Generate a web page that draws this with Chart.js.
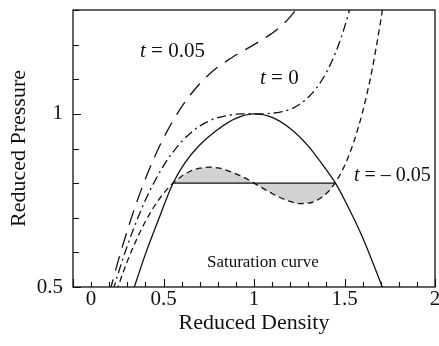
<!DOCTYPE html>
<html>
<head>
<meta charset="utf-8">
<script src="https://cdn.jsdelivr.net/npm/chart.js@4.4.0/dist/chart.umd.min.js"></script>
<style>
  html, body { margin: 0; padding: 0; background: #fff; }
  canvas { display: block; }
</style>
</head>
<body>
<canvas id="isotherm_plot" width="439" height="346"></canvas>
<script>
'use strict';

// isotherm t = 0.05
const densityHot = [0.20, 0.25, 0.30, 0.35, 0.40, 0.45, 0.50, 0.55, 0.60, 0.65, 0.70, 0.75, 0.80, 0.85, 0.90, 0.95, 1.00, 1.05, 1.10, 1.15, 1.20, 1.25];
const pressureHot = [0.480, 0.576, 0.663, 0.742, 0.812, 0.875, 0.930, 0.978, 1.020, 1.056, 1.087, 1.113, 1.135, 1.153, 1.170, 1.185, 1.200, 1.216, 1.233, 1.254, 1.280, 1.313];

// critical isotherm t = 0
const densityCrit = [0.22, 0.25, 0.30, 0.35, 0.40, 0.45, 0.50, 0.55, 0.60, 0.65, 0.70, 0.75, 0.80, 0.85, 0.90, 0.95, 1.00, 1.05, 1.10, 1.15, 1.20, 1.25, 1.30, 1.35, 1.40, 1.45, 1.50, 1.55];
const pressureCrit = [0.488, 0.540, 0.619, 0.689, 0.751, 0.804, 0.850, 0.888, 0.920, 0.945, 0.965, 0.979, 0.989, 0.995, 0.999, 1.000, 1.000, 1.000, 1.002, 1.006, 1.013, 1.027, 1.048, 1.078, 1.120, 1.176, 1.250, 1.344];

// isotherm t = -0.05 (with van der Waals loop)
const densityCold = [0.24, 0.25, 0.30, 0.35, 0.40, 0.45, 0.50, 0.55, 0.60, 0.65, 0.70, 0.75, 0.80, 0.85, 0.90, 0.95, 1.00, 1.05, 1.10, 1.15, 1.20, 1.25, 1.30, 1.35, 1.40, 1.45, 1.50, 1.55, 1.60, 1.65, 1.70, 1.72];
const pressureCold = [0.488, 0.503, 0.574, 0.636, 0.689, 0.734, 0.770, 0.799, 0.820, 0.835, 0.843, 0.846, 0.844, 0.837, 0.827, 0.815, 0.800, 0.785, 0.770, 0.757, 0.747, 0.741, 0.742, 0.751, 0.770, 0.802, 0.850, 0.917, 1.006, 1.121, 1.269, 1.337];

// Maxwell construction for t = -0.05
const densityTieLine = [0.55, 1.45];
const pressureTieLine = [0.80, 0.80];

// saturation (coexistence) curve
const densitySat = [0.32, 0.40, 0.48, 0.55, 0.62, 0.70, 0.80, 0.90, 1.00, 1.10, 1.20, 1.30, 1.40, 1.45, 1.50, 1.60, 1.72];
const pressureSat = [0.470, 0.595, 0.705, 0.797, 0.860, 0.910, 0.955, 0.987, 1.000, 0.990, 0.958, 0.907, 0.838, 0.800, 0.752, 0.643, 0.485];

// axis labels (the figure prints "0" under the first inner tick)
const xTickValues = [0.1, 0.5, 1, 1.5, 2];
const xTickLabels = ['0', '0.5', '1', '1.5', '2'];
const yTickValues = [0.5, 1];
const yTickLabels = ['0.5', '1'];

const INK = '#111';
const SERIF = '"Liberation Serif", "Times New Roman", serif';

function toPoints(xs, ys) {
    return xs.map((x, i) => ({x: x, y: ys[i]}));
}

function labelFor(value, values, labels) {
    const i = values.findIndex(v => Math.abs(v - value) < 1e-6);
    return i < 0 ? '' : labels[i];
}

function isMajor(v) {
    return Math.abs(v * 2 - Math.round(v * 2)) < 1e-6;
}

// shaded area between the loop and the tie line
const loopPoints = toPoints(densityCold, pressureCold)
    .filter(p => p.x >= densityTieLine[0] - 1e-6 && p.x <= densityTieLine[1] + 1e-6);

// text inside the plot, placed in data units
const notes = [
    {x: 0.37, y: 1.163, size: 21, parts: [['t', true], [' = 0.05', false]]},
    {x: 1.033, y: 1.086, size: 21, parts: [['t', true], [' = 0', false]]},
    {x: 1.552, y: 0.807, size: 20, parts: [['t', true], [' = \u2013 0.05', false]]},
    {x: 0.74, y: 0.558, size: 17, parts: [['Saturation curve', false]]}
];

const framePlugin = {
    id: 'frame',
    afterDatasetsDraw(chart) {
        const {ctx, scales: {x, y}} = chart;
        ctx.save();
        ctx.fillStyle = INK;
        ctx.textBaseline = 'alphabetic';
        ctx.textAlign = 'left';
        notes.forEach(n => {
            let px = x.getPixelForValue(n.x);
            const py = y.getPixelForValue(n.y);
            n.parts.forEach(([text, italic]) => {
                ctx.font = (italic ? 'italic ' : '') + n.size + 'px ' + SERIF;
                ctx.fillText(text, px, py);
                px += ctx.measureText(text).width;
            });
        });
        ctx.restore();
    },
    afterDraw(chart) {
        const {ctx, chartArea: a, scales: {x, y}} = chart;
        ctx.save();
        ctx.strokeStyle = INK;
        ctx.lineWidth = 1.3;
        ctx.strokeRect(a.left, a.top, a.right - a.left, a.bottom - a.top);
        ctx.lineWidth = 1.1;
        ctx.beginPath();
        x.ticks.forEach(t => {
            const px = Math.round(x.getPixelForValue(t.value)) + 0.5;
            const len = isMajor(t.value) ? 8 : 5;
            ctx.moveTo(px, a.bottom);
            ctx.lineTo(px, a.bottom - len);
        });
        y.ticks.forEach(t => {
            const py = Math.round(y.getPixelForValue(t.value)) + 0.5;
            const len = isMajor(t.value) ? 8 : 6;
            ctx.moveTo(a.left, py);
            ctx.lineTo(a.left + len, py);
        });
        ctx.stroke();
        ctx.restore();
    }
};

function curve(data, dash) {
    return {
        data: data,
        borderColor: INK,
        borderWidth: 1.3,
        borderDash: dash,
        pointRadius: 0,
        fill: false,
        cubicInterpolationMode: 'monotone'
    };
}

const isotherm_plot = new Chart(document.getElementById('isotherm_plot'), {
    type: 'line',
    data: {
        datasets: [
            curve(toPoints(densitySat, pressureSat), []),
            curve(toPoints(densityHot, pressureHot), [15, 9]),
            curve(toPoints(densityCrit, pressureCrit), [9, 4, 2, 4]),
            curve(toPoints(densityCold, pressureCold), [6, 4]),
            Object.assign(curve(toPoints(densityTieLine, pressureTieLine), []), {cubicInterpolationMode: 'default', tension: 0}),
            {
                data: loopPoints,
                borderWidth: 0,
                pointRadius: 0,
                backgroundColor: 'rgb(210, 210, 210)',
                fill: {value: 0.8},
                cubicInterpolationMode: 'monotone'
            }
        ]
    },
    options: {
        responsive: false,
        animation: false,
        devicePixelRatio: 1,
        layout: {padding: {left: 0, right: 4, top: 10, bottom: 0}},
        plugins: {legend: {display: false}, tooltip: {enabled: false}},
        scales: {
            x: {
                type: 'linear',
                min: 0,
                max: 2,
                grid: {display: false, drawTicks: false},
                border: {display: false},
                ticks: {
                    stepSize: 0.1,
                    autoSkip: false,
                    maxRotation: 0,
                    padding: 0,
                    color: INK,
                    font: {family: SERIF, size: 21},
                    callback: v => labelFor(v, xTickValues, xTickLabels)
                },
                title: {
                    display: true,
                    text: 'Reduced Density',
                    color: INK,
                    font: {family: SERIF, size: 22},
                    padding: {top: 0, bottom: 10}
                },
                afterFit: scale => {
                    scale.height = 59;
                    scale.paddingLeft = 0;
                    scale.paddingRight = 0;
                }
            },
            y: {
                type: 'linear',
                min: 0.5,
                max: 1.3,
                grid: {display: false, drawTicks: false},
                border: {display: false},
                ticks: {
                    stepSize: 0.1,
                    autoSkip: false,
                    padding: 10,
                    color: INK,
                    font: {family: SERIF, size: 21},
                    callback: v => labelFor(v, yTickValues, yTickLabels)
                },
                title: {
                    display: true,
                    text: 'Reduced Pressure',
                    color: INK,
                    font: {family: SERIF, size: 22},
                    padding: {top: 6, bottom: 0}
                },
                afterFit: scale => {
                    scale.width = 73;
                    scale.paddingTop = 0;
                    scale.paddingBottom = 0;
                }
            }
        }
    },
    plugins: [framePlugin]
});
</script>
</body>
</html>
